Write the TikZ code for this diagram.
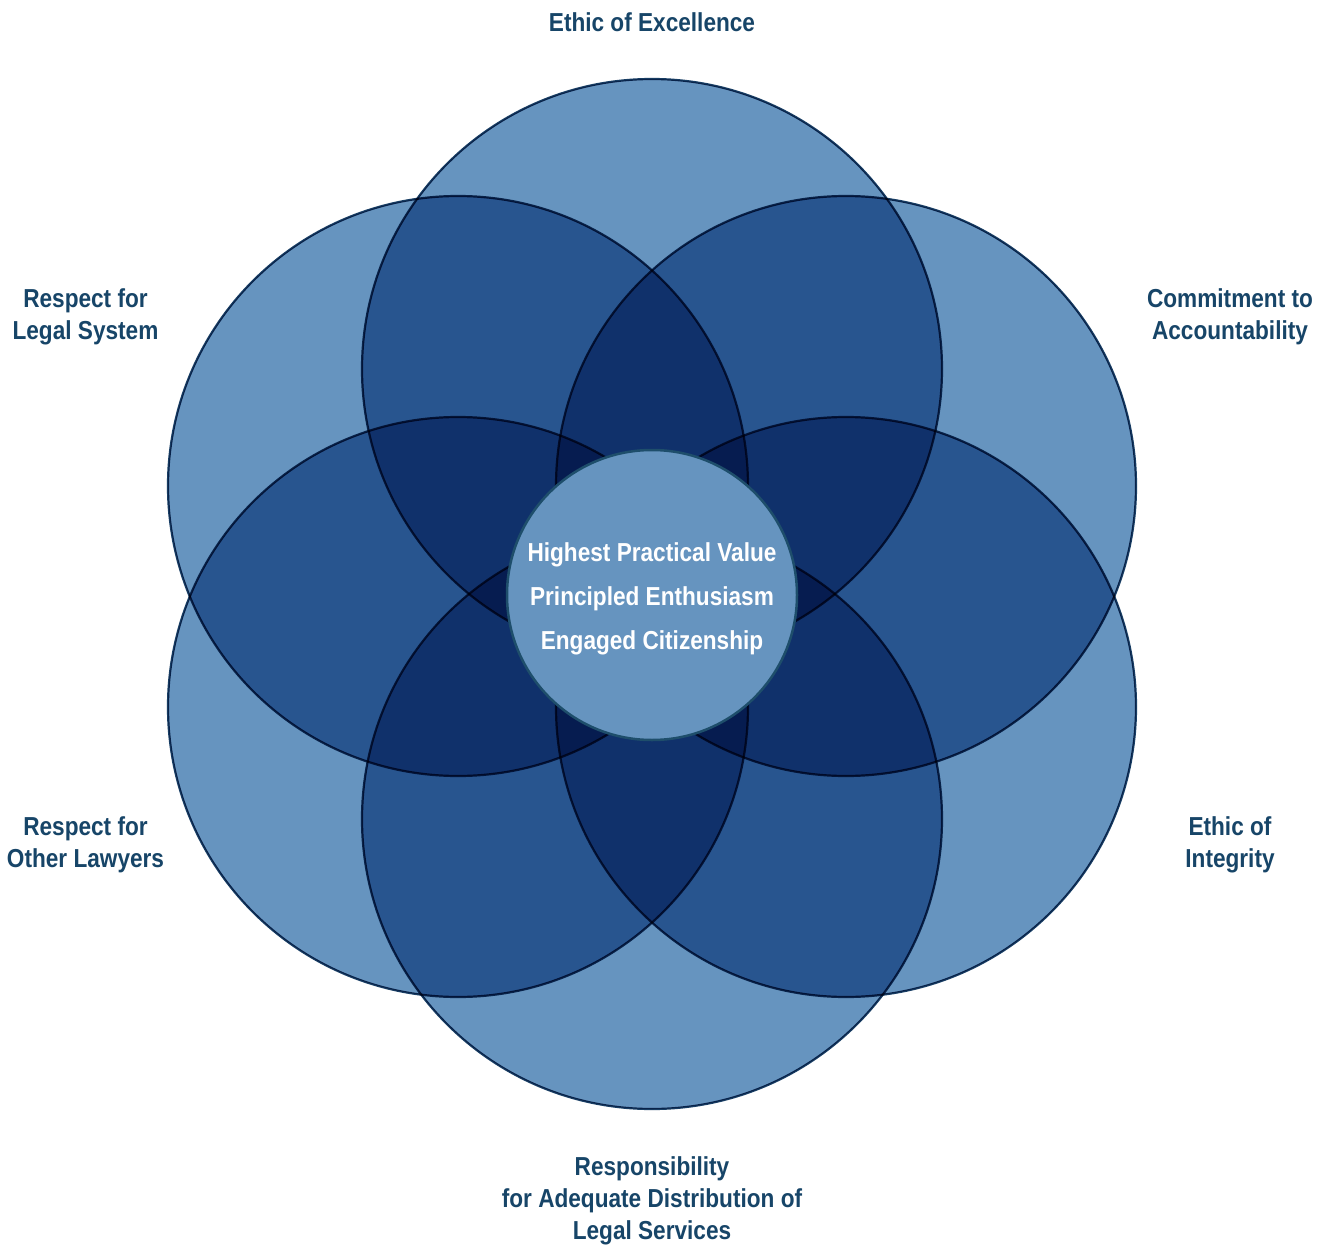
\documentclass[tikz,border=0pt]{standalone}
\usepackage{fontspec}
\setmainfont{Liberation Sans}[FakeStretch=0.87]
\definecolor{petal}{RGB}{102,148,191}
\definecolor{rim}{RGB}{24,62,100}
\definecolor{hubrim}{RGB}{30,78,107}
\definecolor{labelc}{RGB}{23,69,104}
\tikzset{
  petalc/.style={circle, minimum size=580pt, inner sep=0pt, fill=petal, draw=rim, line width=2.2pt},
  hubc/.style={circle, minimum size=290pt, inner sep=0pt, fill=petal, draw=hubrim, line width=2.5pt},
  lbl/.style={font=\fontsize{26}{32}\selectfont\bfseries, text=labelc, align=center, inner sep=0pt},
  hubtxt/.style={font=\fontsize{26}{44}\selectfont\bfseries, text=white, align=center, inner sep=0pt}
}
\begin{document}
\begin{tikzpicture}[x=1pt,y=-1pt]
\useasboundingbox (0,0) rectangle (1326,1247);
\fill[white] (0,0) rectangle (1326,1247);
\begin{scope}[blend group=multiply]
\node[petalc] (ptop) at (652,369) {};
\node[petalc] (ptr) at (846,486) {};
\node[petalc] (pbr) at (846,707) {};
\node[petalc] (pbot) at (652,819) {};
\node[petalc] (pbl) at (458,707) {};
\node[petalc] (ptl) at (458,486) {};
\end{scope}
\node[hubc] (hub) at (652,595) {};
\node[hubtxt] (core) at (652,599) {Highest Practical Value\\Principled Enthusiasm\\Engaged Citizenship};
\node[lbl] (l1) at (652,22.5) {Ethic of Excellence};
\node[lbl] (l2) at (85.5,316.5) {Respect for\\Legal System};
\node[lbl] (l3) at (1230,316.5) {Commitment to\\Accountability};
\node[lbl] (l4) at (85.5,844.5) {Respect for\\Other Lawyers};
\node[lbl] (l5) at (1230,844.5) {Ethic of\\Integrity};
\node[lbl] (l6) at (652,1200.5) {Responsibility\\for Adequate Distribution of\\Legal Services};
\end{tikzpicture}
\end{document}
